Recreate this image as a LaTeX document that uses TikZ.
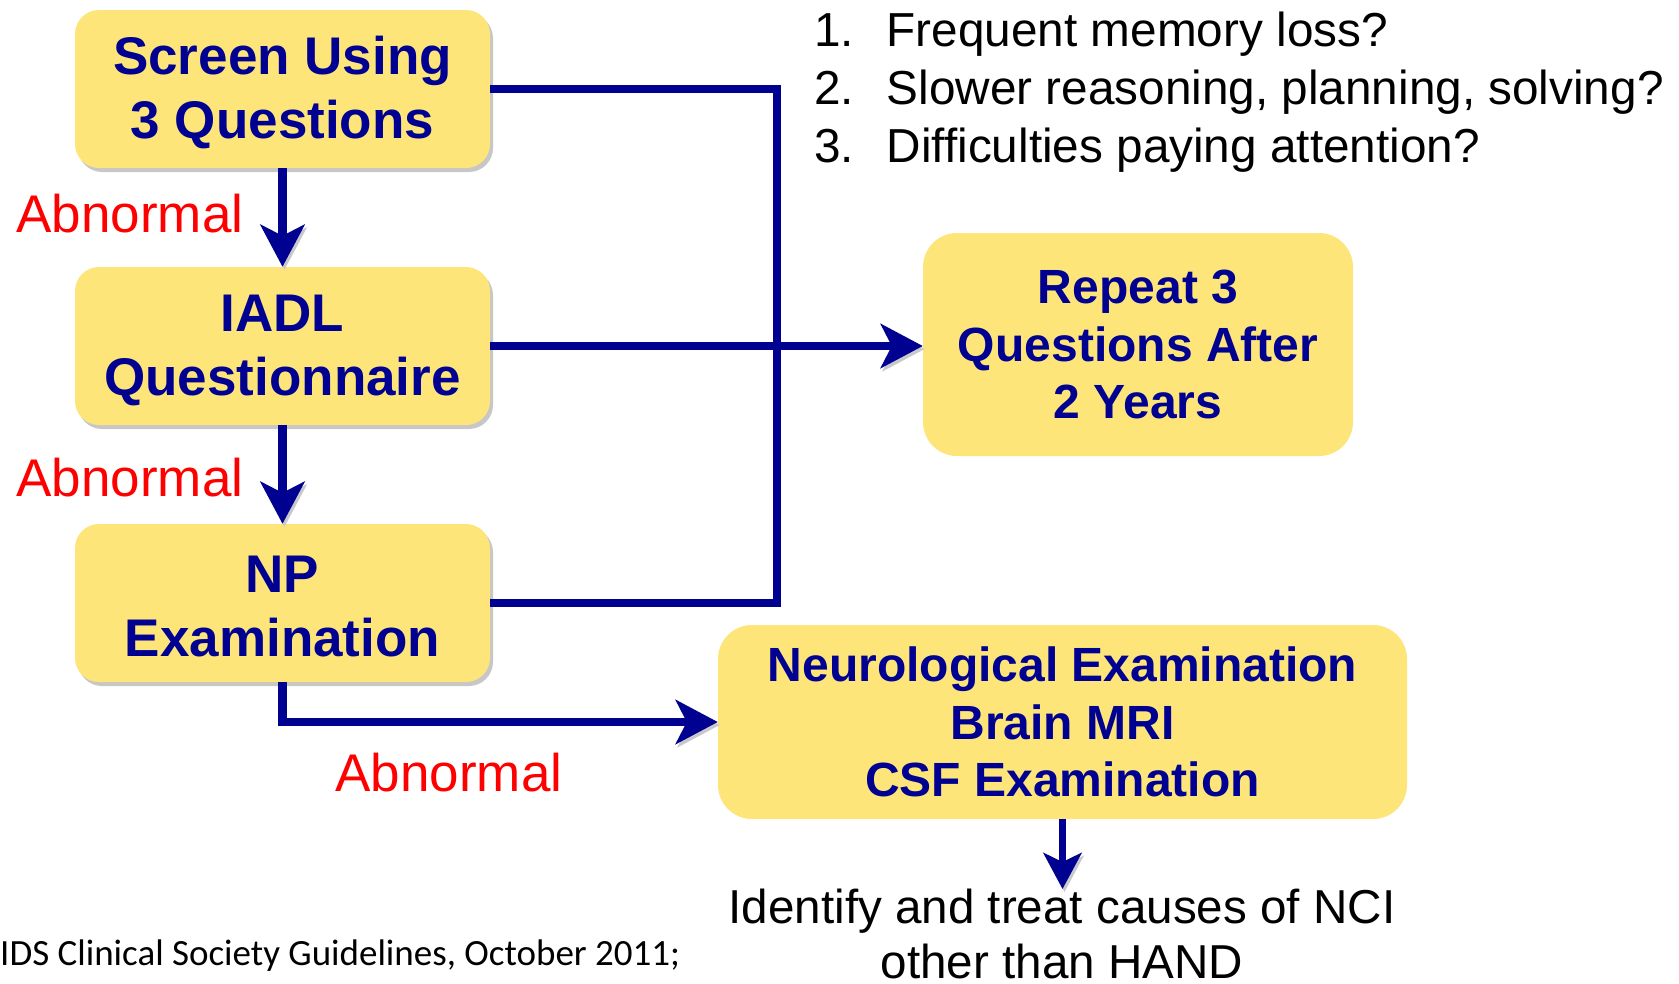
\documentclass[tikz,border=0pt]{standalone}
\usepackage{fontspec}
\setmainfont{Liberation Sans}
\newfontfamily\calibrifont{Carlito}
\usetikzlibrary{arrows.meta,shadows}
\definecolor{boxyellow}{RGB}{253,229,122}
\definecolor{navy}{RGB}{0,0,145}
\definecolor{shade}{RGB}{200,200,205}
\tikzset{
  leftbox/.style={draw=none, fill=boxyellow, rounded corners=24pt, minimum width=415pt, minimum height=158pt, inner sep=0pt,
    drop shadow={shadow xshift=3pt, shadow yshift=-4pt, fill=black!22, opacity=1}},
  lefttext/.style={inner sep=0pt, align=center, text=navy, font=\fontsize{53}{64}\selectfont\bfseries},
  rightbox/.style={draw=none, fill=boxyellow, rounded corners=34pt, inner sep=0pt, align=center, text=navy,
    font=\fontsize{48}{57.5}\selectfont\bfseries},
  conn/.style={draw=navy, line width=8.5pt,
    preaction={draw=shade, transform canvas={shift={(2pt,-3pt)}}}},
  tip/.style={-{Stealth[length=42pt, width=44pt, inset=11pt]}},
  smalltip/.style={-{Stealth[length=36pt, width=38pt, inset=9pt]}},
  abn/.style={text=red, font=\fontsize{53}{63}\selectfont, inner sep=0pt},
  qtext/.style={font=\fontsize{47.7}{57}\selectfont, inner sep=0pt, anchor=base west},
}
\begin{document}
\begin{tikzpicture}[x=1pt, y=-1pt]
\useasboundingbox (0,0) rectangle (1679,983);
% boxes
\node[leftbox] (b1) at (282.5,89) {};
\node[leftbox] (b2) at (282.5,346) {};
\node[leftbox] (b3) at (282.5,603) {};
\node[lefttext] (t1) at ([yshift=-4pt]b1.center) {Screen Using\\3 Questions};
\node[lefttext] (t2) at ([yshift=-4pt]b2.center) {IADL\\Questionnaire};
\node[lefttext] (t3) at ([yshift=-4pt]b3.center) {NP\\Examination};
\node[rightbox, minimum width=430pt, minimum height=223pt] (rep) at (1138,344.5) {Repeat 3\\Questions After\\2 Years};
\node[rightbox, minimum width=689pt, minimum height=194pt] (neuro) at (1062.5,722) {Neurological Examination\\Brain MRI\\CSF Examination};
% question list
\node[qtext] (q1n) at (814,46) {1.};
\node[qtext] (q1) at (886.6,46) {Frequent memory loss?};
\node[qtext] (q2n) at (814,104) {2.};
\node[qtext] (q2) at (886.6,104) {Slower reasoning, planning, solving?};
\node[qtext] (q3n) at (814,162) {3.};
\node[qtext] (q3) at (886.6,162) {Difficulties paying attention?};
% labels
\node[abn] (a1) at (130,214) {Abnormal};
\node[abn] (a2) at (130,478) {Abnormal};
\node[abn] (a3) at (449,773) {Abnormal};
\node[font=\fontsize{47.6}{55}\selectfont, align=center, inner sep=0pt, anchor=north] (ident) at (1062,889) {Identify and treat causes of NCI\\other than HAND};
\node[font=\fontsize{37}{44}\selectfont\calibrifont, inner sep=0pt, anchor=base west] (ref) at (0,965) {IDS Clinical Society Guidelines, October 2011;};
% connectors
\coordinate (bus) at (777,345);
\draw[conn, tip] (b1.south) -- (b2.north);
\draw[conn, tip] (b2.south) -- (b3.north);
\draw[conn] (b1.east) -| (bus) |- (b3.east);
\draw[conn, tip] (b2.east) -- (b2.east -| rep.west);
\draw[conn, tip] (b3.south) |- (neuro.west);
\draw[conn, line width=7pt, smalltip] (neuro.south) -- (neuro.south |- ident.north);
\end{tikzpicture}
\end{document}
